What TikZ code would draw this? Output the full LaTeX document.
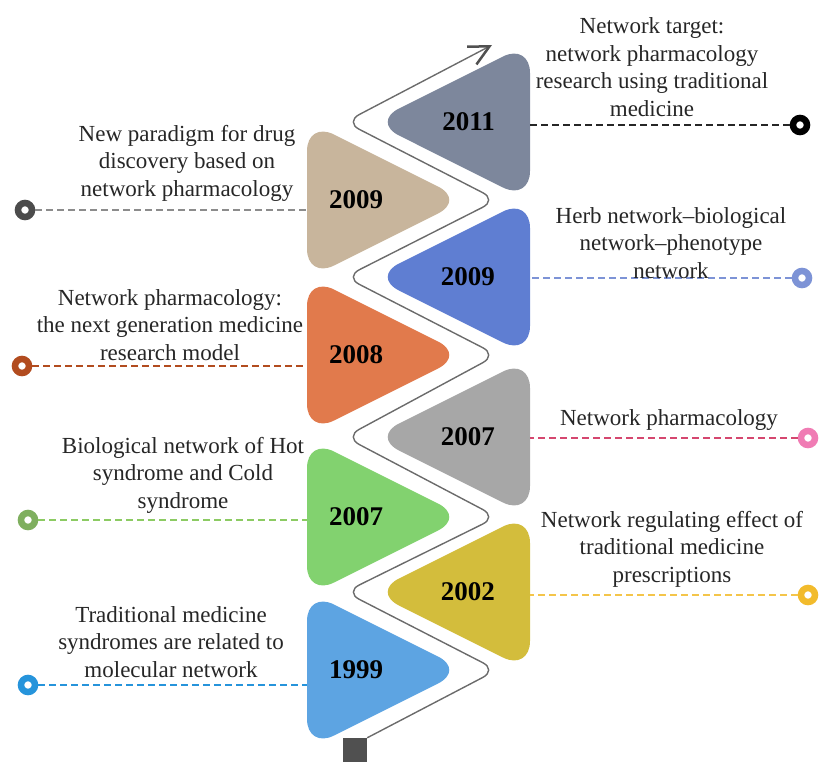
\documentclass[tikz,border=0pt]{standalone}
\usepackage{fontspec}
\setmainfont{Liberation Serif}
\usetikzlibrary{shapes.geometric, arrows.meta, positioning}
\definecolor{textgray}{HTML}{262626}
\definecolor{wavegray}{HTML}{6B6B6B}
\definecolor{tipgray}{HTML}{505050}
\definecolor{slate}{HTML}{7D879C}
\definecolor{sand}{HTML}{C8B59C}
\definecolor{royal}{HTML}{5F7ED2}
\definecolor{coral}{HTML}{E17A4C}
\definecolor{silver}{HTML}{A7A7A7}
\definecolor{lime}{HTML}{82D26F}
\definecolor{mustard}{HTML}{D3BD3C}
\definecolor{sky}{HTML}{5DA4E2}
\definecolor{rust}{HTML}{B24C1F}
\definecolor{rose}{HTML}{D5476F}
\definecolor{pinkring}{HTML}{F07CB4}
\definecolor{leaf}{HTML}{8CCB63}
\definecolor{leafring}{HTML}{7FAF5F}
\definecolor{amber}{HTML}{F4C54A}
\definecolor{amberring}{HTML}{F2BB2C}
\definecolor{azure}{HTML}{2694DB}
\definecolor{periwinkle}{HTML}{7D93D6}

\begin{document}
\begin{tikzpicture}[x=1pt, y=-1pt]
\tikzstyle{lefttri} = [isosceles triangle, isosceles triangle stretches, shape border rotate=0, minimum width=158pt, minimum height=158pt, inner sep=0pt, outer sep=0pt, rounded corners=30pt, anchor=west]
\tikzstyle{righttri} = [isosceles triangle, isosceles triangle stretches, shape border rotate=180, minimum width=158pt, minimum height=158pt, inner sep=0pt, outer sep=0pt, rounded corners=30pt, anchor=east]
\tikzstyle{year} = [font=\fontsize{27}{30}\selectfont\bfseries, inner sep=0pt, text=black]
\tikzstyle{note} = [align=center, text=textgray, font=\fontsize{23}{27.5}\selectfont, inner sep=0pt]
\tikzstyle{ring} = [circle, minimum size=14pt, inner sep=0pt, line width=6.5pt, fill=white]
\tikzstyle{link} = [dash pattern=on 7pt off 4pt, line width=1.8pt]
\tikzstyle{wave} = [wavegray, line width=1.4pt, rounded corners=16pt, -{Straight Barb[length=20pt, width=20pt, line width=2.5pt, color=tipgray]}]

\useasboundingbox (0,0) rectangle (819,763);

% start of the time line
\node (start) [rectangle, fill=tipgray, minimum size=24pt, inner sep=0pt] at (355,750) {};
\coordinate (tip) at (492,45);
\draw[wave] (start.north east) -- (497,670) -- (345,592) -- (497,517) -- (345,437)
  -- (497,355) -- (345,277) -- (497,200) -- (345,122) -- (tip);

% triangles
\node (t2011) [righttri, fill=slate] at (530,122) {};
\node (t2009b) [righttri, fill=royal] at (530,277) {};
\node (t2007b) [righttri, fill=silver] at (530,437) {};
\node (t2002) [righttri, fill=mustard] at (530,592) {};
\node (t2009a) [lefttri, fill=sand] at (307,200) {};
\node (t2008) [lefttri, fill=coral] at (307,355) {};
\node (t2007a) [lefttri, fill=lime] at (307,517) {};
\node (t1999) [lefttri, fill=sky] at (307,670) {};

% years
\node (y2011) [year, left=35pt of t2011.east] {2011};
\node (y2009b) [year, left=35pt of t2009b.east] {2009};
\node (y2007b) [year, left=35pt of t2007b.east] {2007};
\node (y2002) [year, left=35pt of t2002.east] {2002};
\node (y2009a) [year, right=22pt of t2009a.west] {2009};
\node (y2008) [year, right=22pt of t2008.west] {2008};
\node (y2007a) [year, right=22pt of t2007a.west] {2007};
\node (y1999) [year, right=22pt of t1999.west] {1999};

% end points
\node (c2011) [ring, draw=black] at (800,125) {};
\node (c2009b) [ring, draw=periwinkle] at (802,278) {};
\node (c2007b) [ring, draw=pinkring] at (808,438) {};
\node (c2002) [ring, draw=amberring] at (808,595) {};
\node (c2009a) [ring, draw=black!70] at (25,210) {};
\node (c2008) [ring, draw=rust] at (22,366) {};
\node (c2007a) [ring, draw=leafring] at (28,520) {};
\node (c1999) [ring, draw=azure] at (28,685) {};

\draw[link, black!85] (c2011) -- (c2011 -| t2011.east);
\draw[link, periwinkle] (c2009b) -- (c2009b -| t2009b.east);
\draw[link, rose] (c2007b) -- (c2007b -| t2007b.east);
\draw[link, amber] (c2002) -- (c2002 -| t2002.east);
\draw[link, black!45] (c2009a) -- (c2009a -| t2009a.west);
\draw[link, rust] (c2008) -- (c2008 -| t2008.west);
\draw[link, leaf] (c2007a) -- (c2007a -| t2007a.west);
\draw[link, azure] (c1999) -- (c1999 -| t1999.west);

% descriptions
\node (n2011) [note] at (652,67) {Network target:\\ network pharmacology\\ research using traditional\\ medicine};
\node (n2009b) [note] at (671,243) {Herb network--biological\\ network--phenotype\\ network};
\node (n2007b) [note] at (669,420) {Network pharmacology};
\node (n2002) [note] at (672,549) {Network regulating effect of\\ traditional medicine\\ prescriptions};
\node (n2009a) [note] at (187,163) {New paradigm for drug\\ discovery based on\\ network pharmacology};
\node (n2008) [note] at (170,325) {Network pharmacology:\\ the next generation medicine\\ research model};
\node (n2007a) [note] at (183,475) {Biological network of Hot\\ syndrome and Cold\\ syndrome};
\node (n1999) [note] at (171,642) {Traditional medicine\\ syndromes are related to\\ molecular network};

\end{tikzpicture}
\end{document}
